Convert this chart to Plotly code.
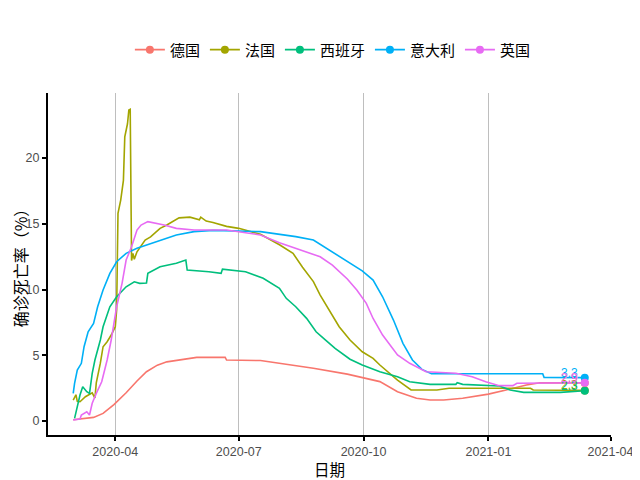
import plotly.graph_objects as go

# ---------------- data ----------------
names = ["德国", "法国", "西班牙", "意大利", "英国"]
colors = ["#F8766D", "#A3A500", "#00BF7D", "#00B0F6", "#E76BF3"]

de_dates = ["2020-03-01", "2020-03-16", "2020-03-23", "2020-03-31", "2020-04-09", "2020-04-17",
            "2020-04-24", "2020-05-02", "2020-05-09", "2020-05-21", "2020-05-31", "2020-06-21",
            "2020-06-22", "2020-07-17", "2020-07-31", "2020-08-25", "2020-09-19", "2020-09-30",
            "2020-10-13", "2020-10-26", "2020-11-09", "2020-11-19", "2020-11-29", "2020-12-13",
            "2021-01-01", "2021-01-14", "2021-01-29", "2021-02-08", "2021-03-13"]
de_vals = [0.1, 0.28, 0.58, 1.25, 2.15, 3.05, 3.75, 4.25, 4.5, 4.69, 4.84, 4.84,
           4.64, 4.6, 4.39, 4.01, 3.57, 3.32, 3.0, 2.23, 1.73, 1.6, 1.6, 1.73,
           2.05, 2.36, 2.74, 2.91, 2.9]

fr_dates = ["2020-03-01", "2020-03-03", "2020-03-04", "2020-03-06", "2020-03-10", "2020-03-15",
            "2020-03-17", "2020-03-18", "2020-03-21", "2020-03-23", "2020-03-26", "2020-03-29",
            "2020-04-01", "2020-04-02", "2020-04-03", "2020-04-05", "2020-04-07", "2020-04-08",
            "2020-04-10", "2020-04-11", "2020-04-12", "2020-04-13", "2020-04-14", "2020-04-15",
            "2020-04-17", "2020-04-23", "2020-04-27", "2020-05-04", "2020-05-09", "2020-05-18",
            "2020-05-26", "2020-06-02", "2020-06-03", "2020-06-07", "2020-06-12", "2020-06-22",
            "2020-07-01", "2020-07-17", "2020-07-31", "2020-08-10", "2020-08-17", "2020-08-25",
            "2020-08-30", "2020-09-06", "2020-09-13", "2020-09-21", "2020-09-30", "2020-10-08",
            "2020-10-13", "2020-10-26", "2020-11-05", "2020-11-24", "2020-12-03", "2021-02-01",
            "2021-02-03", "2021-03-13"]
fr_vals = [1.6, 2.0, 1.5, 1.47, 1.85, 2.15,
           1.75, 2.9, 4.4, 5.65, 6.03, 6.54,
           7.17, 8.44, 15.8, 16.8, 18.3, 21.6,
           22.6, 23.65, 23.7, 12.2, 12.75, 12.3,
           12.87, 13.76, 14.0, 14.65, 14.9, 15.45,
           15.5, 15.3, 15.5, 15.2, 15.1, 14.8,
           14.65, 14.2, 13.4, 12.75, 11.7, 10.6,
           9.58, 8.4, 7.17, 6.16, 5.27, 4.77,
           4.26, 3.12, 2.36, 2.36, 2.49, 2.49,
           2.36, 2.33]

es_dates = ["2020-03-02", "2020-03-04", "2020-03-06", "2020-03-08", "2020-03-11", "2020-03-13",
            "2020-03-15", "2020-03-17", "2020-03-21", "2020-03-23", "2020-03-28", "2020-04-02",
            "2020-04-09", "2020-04-15", "2020-04-19", "2020-04-24", "2020-04-25", "2020-05-04",
            "2020-05-16", "2020-05-23", "2020-05-24", "2020-06-09", "2020-06-18", "2020-06-19",
            "2020-07-01", "2020-07-06", "2020-07-19", "2020-07-31", "2020-08-05", "2020-08-12",
            "2020-08-20", "2020-08-27", "2020-09-03", "2020-09-10", "2020-09-21", "2020-09-30",
            "2020-10-13", "2020-10-26", "2020-11-04", "2020-11-19", "2020-12-08", "2020-12-09",
            "2020-12-13", "2021-01-02", "2021-01-09", "2021-01-17", "2021-01-27", "2021-02-23",
            "2021-03-13"]
es_vals = [0.2, 1.09, 1.98, 2.61, 2.23, 2.1,
           3.63, 4.64, 6.16, 7.17, 8.69, 9.45,
           10.21, 10.59, 10.47, 10.5, 11.23, 11.73,
           11.99, 12.24, 11.48, 11.35, 11.23, 11.55,
           11.43, 11.35, 10.85, 10.09, 9.33, 8.69,
           7.81, 6.79, 6.16, 5.53, 4.7, 4.26,
           3.75, 3.37, 2.99, 2.79, 2.79, 2.91,
           2.79, 2.69, 2.66, 2.36, 2.18, 2.18,
           2.3]

it_dates = ["2020-03-01", "2020-03-02", "2020-03-04", "2020-03-07", "2020-03-09", "2020-03-12",
            "2020-03-16", "2020-03-19", "2020-03-23", "2020-03-28", "2020-04-02", "2020-04-09",
            "2020-04-17", "2020-04-24", "2020-05-04", "2020-05-16", "2020-05-29", "2020-06-12",
            "2020-07-17", "2020-07-31", "2020-08-12", "2020-08-25", "2020-09-06", "2020-09-19",
            "2020-09-30", "2020-10-08", "2020-10-15", "2020-10-23", "2020-10-30", "2020-11-06",
            "2020-11-13", "2020-11-20", "2021-02-10", "2021-02-11", "2021-03-13"]
it_vals = [2.1, 2.87, 3.88, 4.39, 5.65, 6.79,
           7.43, 8.69, 9.96, 11.23, 12.11, 12.75,
           13.13, 13.38, 13.76, 14.14, 14.4, 14.5,
           14.4, 14.22, 14.02, 13.76, 13.0, 12.11,
           11.42, 10.72, 9.45, 7.68, 5.91, 4.64,
           3.93, 3.6, 3.6, 3.32, 3.3]

uk_dates = ["2020-03-01", "2020-03-06", "2020-03-07", "2020-03-11", "2020-03-13", "2020-03-15",
            "2020-03-18", "2020-03-22", "2020-03-26", "2020-03-29", "2020-04-02", "2020-04-06",
            "2020-04-09", "2020-04-13", "2020-04-17", "2020-04-20", "2020-04-25", "2020-05-02",
            "2020-05-07", "2020-05-16", "2020-05-29", "2020-06-22", "2020-07-17", "2020-07-31",
            "2020-08-15", "2020-08-30", "2020-09-08", "2020-09-19", "2020-09-26", "2020-10-03",
            "2020-10-08", "2020-10-15", "2020-10-26", "2020-11-04", "2020-11-16", "2020-12-08",
            "2020-12-20", "2020-12-30", "2021-01-09", "2021-01-19", "2021-01-22", "2021-03-13"]
uk_vals = [0.08, 0.15, 0.46, 0.71, 0.46, 1.35,
           2.1, 2.99, 4.64, 6.16, 8.69, 10.47,
           12.24, 13.25, 14.52, 14.9, 15.16, 15.03,
           14.9, 14.65, 14.52, 14.52, 14.15, 13.56,
           13.0, 12.49, 11.86, 10.8, 9.96, 8.95,
           7.8, 6.54, 5.02, 4.39, 3.75, 3.63,
           3.37, 2.99, 2.69, 2.69, 2.87, 2.91]

series_dates = [de_dates, fr_dates, es_dates, it_dates, uk_dates]
series_vals = [de_vals, fr_vals, es_vals, it_vals, uk_vals]

x_tick_vals = ["2020-04-01", "2020-07-01", "2020-10-01", "2021-01-01", "2021-04-01"]
y_tick_vals = [0, 5, 10, 15, 20]

# ---------------- figure ----------------
CJK = "Noto Sans CJK SC, Liberation Sans, sans-serif"
LAT = "Liberation Sans, Arial, sans-serif"

fig = go.Figure()
annotations = []
for name, col, xs, ys in zip(names, colors, series_dates, series_vals):
    fig.add_trace(go.Scatter(x=xs, y=ys, mode="lines", name=name, legendgroup=name,
                             showlegend=False, line=dict(color=col, width=1.6),
                             hoverinfo="skip"))
for name, col, xs, ys in zip(names, colors, series_dates, series_vals):
    fig.add_trace(go.Scatter(x=[xs[-1]], y=[ys[-1]], mode="lines+markers", name=name,
                             legendgroup=name, line=dict(color=col, width=1.6),
                             marker=dict(color=col, size=8, symbol="circle")))
    annotations.append(dict(x=xs[-1], y=ys[-1], xref="x", yref="y", text=f"{ys[-1]:.1f}",
                            showarrow=False, xanchor="right", yanchor="middle",
                            xshift=-5, yshift=5, font=dict(family=LAT, size=12, color=col)))

# the page body adds an 8px offset, so the figure is 8px smaller than the window
fig.update_layout(
    width=632, height=472,
    paper_bgcolor="white", plot_bgcolor="white",
    margin=dict(l=40, r=29, t=85, b=45, autoexpand=False),
    font=dict(family=CJK, color="black"),
    showlegend=True,
    legend=dict(orientation="h", x=0.506, xanchor="center", y=1.126, yanchor="middle",
                font=dict(family=CJK, size=15, color="black"), itemwidth=30,
                bgcolor="rgba(0,0,0,0)"),
    annotations=annotations,
)
fig.update_xaxes(
    type="date", range=["2020-02-11 10:00", "2021-04-01 08:00"],
    tickvals=x_tick_vals, tickformat="%Y-%m",
    showgrid=True, gridcolor="#BEBEBE", gridwidth=1,
    showline=True, linecolor="black", linewidth=2,
    ticks="outside", ticklen=4, tickwidth=1.5, tickcolor="black",
    tickfont=dict(family=LAT, size=12.5, color="#4D4D4D"),
    title=dict(text="日期", font=dict(family=CJK, size=15.5, color="black"), standoff=5),
    zeroline=False, automargin=False,
)
fig.update_yaxes(
    range=[-1.06, 24.94], tickvals=y_tick_vals,
    showgrid=False,
    showline=True, linecolor="black", linewidth=2,
    ticks="outside", ticklen=4, tickwidth=1.5, tickcolor="black",
    tickfont=dict(family=LAT, size=12.5, color="#4D4D4D"),
    title=dict(text="确诊死亡率（%）", font=dict(family=CJK, size=16, color="black"), standoff=2),
    zeroline=False, automargin=False,
)

fig.write_html("out.html")
